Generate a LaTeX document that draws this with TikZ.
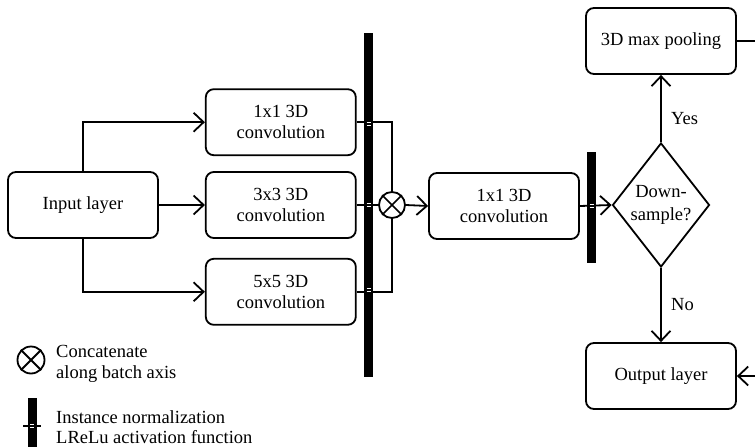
\documentclass[tikz,border=0pt]{standalone}
\usepackage{fontspec}
\setmainfont{Liberation Serif}
\usetikzlibrary{positioning, arrows.meta, shapes.geometric}

\tikzset{
  block/.style={draw, line width=1.8pt, rounded corners=8pt, minimum width=150pt, minimum height=66pt, inner sep=0pt, align=center},
  normbar/.style={fill=black, inner sep=0pt, minimum width=9pt},
  flow/.style={line width=1.8pt, -{Straight Barb[length=10pt, width=19pt]}},
  link/.style={line width=1.8pt},
  normmark/.style={white, line width=0.7pt},
  legendtext/.style={anchor=west, inner sep=0pt, align=left},
}

\begin{document}
\begin{tikzpicture}[x=1pt, y=-1pt, font=\fontsize{18.5}{21.5}\selectfont]
\useasboundingbox (0,0) rectangle (755,447);

% input and the three parallel convolutions
\node[block] (inp) at (83,205) {Input layer};
\node[block, right=46pt of inp] (convB) {3x3 3D\\convolution};
\node[block, above=15pt of convB] (convA) {1x1 3D\\convolution};
\node[block, below=19pt of convB] (convC) {5x5 3D\\convolution};

% normalization bars and concatenation
\node[normbar, minimum height=344pt] (barA) at (368.5,205) {};
\node[draw, circle, line width=1.8pt, minimum size=26pt, inner sep=0pt] (cat) at (392,205) {};
\draw[line width=1.6pt] (cat.north west) -- (cat.south east) (cat.north east) -- (cat.south west);

\node[block] (convD) at (504,206) {1x1 3D\\convolution};
\node[normbar, minimum height=111pt] (barB) at (591.5,207.5) {};
\node[draw, diamond, line width=1.8pt, aspect=0.78, inner sep=0pt, minimum width=97pt, minimum height=124pt, align=center, font=\fontsize{18.5}{22.5}\selectfont] (dec) at (661,205) {Down-\\sample?};

\node[block] (pool) at (661,41) {3D max pooling};
\node[block] (out) at (661,376) {Output layer};
\coordinate (loopA) at (756,41);
\coordinate (loopB) at (756,376);

% connectors
\draw[flow] (inp.north) |- (convA.west);
\draw[flow] (inp.east) -- (convB.west);
\draw[flow] (inp.south) |- (convC.west);
\draw[link] (convA.east) -| (cat.north);
\draw[link] (convB.east) -- (cat.west);
\draw[link] (convC.east) -| (cat.south);
\draw[flow] (cat.east) -- (convD.west);
\draw[flow] (convD.east) -- (dec.west);
\draw[flow] (dec.north) -- node[pos=0.35, right=6pt] {Yes} (pool.south);
\draw[flow] (dec.south) -- node[midway, right=6pt] {No} (out.north);
\draw[link] (pool.east) -- (loopA);
\draw[flow] (loopB) -- (out.east);

% white marks where lines cross the bars
\foreach \yy in {124,205,290} {
  \draw[normmark] (366.5,\yy-1.4) -- ++(4,0) (366.5,\yy+1.4) -- ++(4,0);
}
\draw[normmark] (589.5,204.6) -- ++(4,0) (589.5,207.4) -- ++(4,0);

% legend
\node[draw, circle, line width=1.8pt, minimum size=27pt, inner sep=0pt] (keycat) at (31,360) {};
\draw[line width=1.8pt] (keycat.north west) -- (keycat.south east) (keycat.north east) -- (keycat.south west);
\node[legendtext, font=\fontsize{18.5}{20.5}\selectfont] (keycattext) at (56,364) {Concatenate\\along batch axis};
\node[normbar, minimum height=52pt] (keybar) at (32,424) {};
\draw[link] (23,426) -- (41,426);
\draw[normmark] (30,424.6) -- ++(4,0) (30,427.4) -- ++(4,0);
\node[legendtext, font=\fontsize{18.5}{20}\selectfont] (keybartext) at (56,427) {Instance normalization\\LReLu activation function};
\end{tikzpicture}
\end{document}
